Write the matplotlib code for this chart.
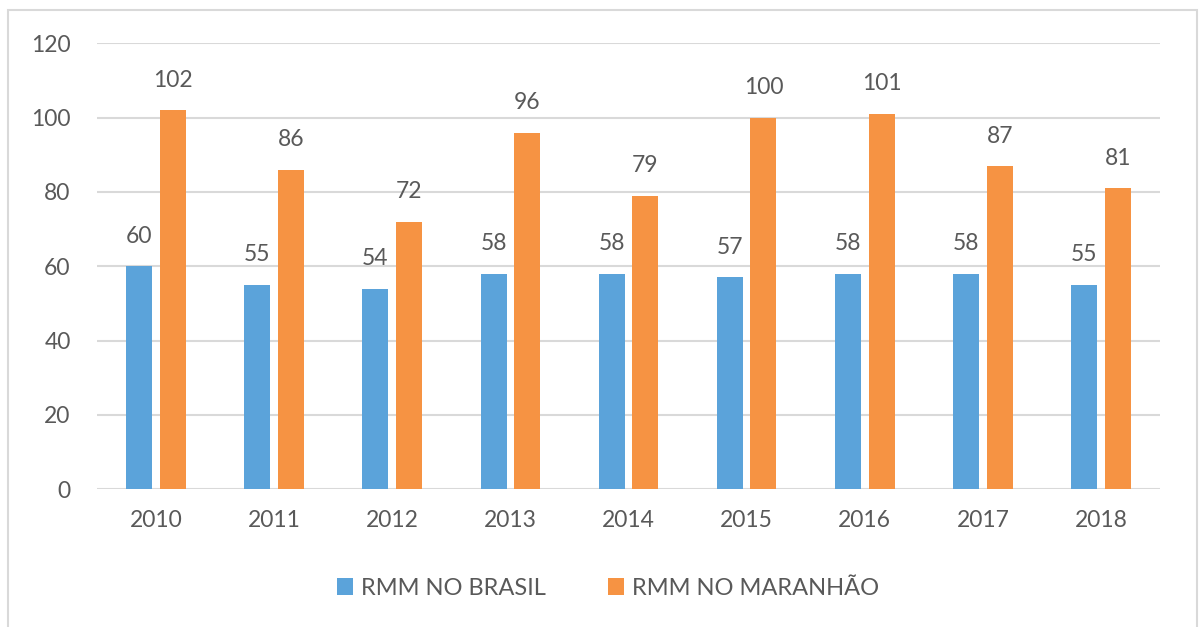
import matplotlib
matplotlib.use("Agg")
import matplotlib.pyplot as plt
import numpy as np
from matplotlib.patches import Rectangle

years = ["2010", "2011", "2012", "2013", "2014", "2015", "2016", "2017", "2018"]
rmm_brasil = [60, 55, 54, 58, 58, 57, 58, 58, 55]
rmm_maranhao = [102, 86, 72, 96, 79, 100, 101, 87, 81]
series_names = ["RMM NO BRASIL", "RMM NO MARANHÃO"]
yticks = [0, 20, 40, 60, 80, 100, 120]

plt.rcParams['font.family'] = ['Lato', 'DejaVu Sans']
txt = '#595959'
blue = '#5BA3DA'
orange = '#F69343'

W, H = 1204, 627
fig = plt.figure(figsize=(W / 100, H / 100), dpi=100)
fig.patches.append(Rectangle((8 / W, -0.05), (1197 - 8) / W, 1 - 10 / H + 0.05,
                             transform=fig.transFigure, fill=False,
                             edgecolor='#d9d9d9', linewidth=1.5, clip_on=False))

ax = fig.add_axes([97 / W, (H - 489.3) / H, (1160 - 97) / W, (489.3 - 43.3) / H])
x = np.arange(len(years))
bw = 0.22
off = 0.1425
b1 = ax.bar(x - off, rmm_brasil, bw, color=blue, label=series_names[0], zorder=3)
b2 = ax.bar(x + off, rmm_maranhao, bw, color=orange, label=series_names[1], zorder=3)

for bars, vals in ((b1, rmm_brasil), (b2, rmm_maranhao)):
    for r, v in zip(bars, vals):
        ax.annotate(str(v), (r.get_x() + r.get_width() / 2, r.get_height()),
                    xytext=(0, 14), textcoords='offset points', ha='center',
                    va='bottom', fontsize=16.5, color=txt)

ax.set_xlim(-0.5, len(years) - 0.5)
ax.set_ylim(0, 120)
ax.set_yticks(yticks)
ax.set_xticks(x)
ax.set_xticklabels(years)
ax.tick_params(axis='both', length=0, labelsize=16.5, labelcolor=txt)
ax.tick_params(axis='x', pad=15)
ax.tick_params(axis='y', pad=19)
ax.grid(axis='y', color='#d9d9d9', linewidth=1.5, zorder=0)
for s in ax.spines.values():
    s.set_visible(False)

fig.legend(handles=[b1, b2], loc='center', bbox_to_anchor=(0.505, 0.062),
           ncol=2, frameon=False, fontsize=17, labelcolor=txt,
           handlelength=0.7, handleheight=0.7, handletextpad=0.35,
           columnspacing=2.6)

fig.savefig("out.png", dpi=100)
